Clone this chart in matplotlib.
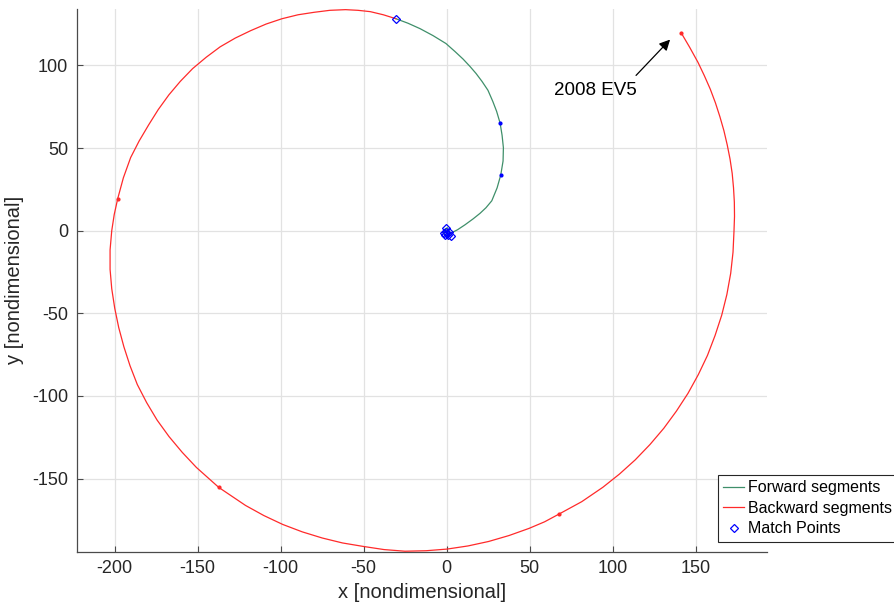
import matplotlib
matplotlib.use("Agg")
import matplotlib.pyplot as plt

plt.rcParams["font.family"] = ["Liberation Sans", "DejaVu Sans"]
plt.rcParams["axes.unicode_minus"] = False

# Backward-propagated arc, from 2008 EV5 round to the upper match point
back_x = [141.2, 146.4, 151.4, 155.2, 158.8, 161.9, 164.6, 167.0, 169.0, 170.7,
          172.0, 172.8, 173.3, 173.4, 173.1, 172.5, 171.1, 168.8, 165.7, 161.7,
          157.1, 151.6, 145.4, 138.4, 130.8, 122.5, 113.6, 104.1, 94.1, 81.4,
          67.9, 59.0, 49.6, 37.6, 25.3, 12.9, 0.3, -12.3, -25.1, -37.7,
          -50.2, -62.7, -74.9, -86.9, -98.7, -110.1, -121.1, -137.2, -150.7,
          -159.2, -167.2, -174.4, -180.7, -186.3, -190.7, -194.4, -197.5,
          -199.9, -201.7, -202.7, -202.7, -201.7, -200.2, -198.1, -194.7,
          -190.3, -185.2, -179.5, -173.7, -167.3, -160.4, -153.0, -144.8,
          -136.4, -127.3, -118.0, -108.7, -99.2, -89.5, -79.8, -70.3, -60.9,
          -53.4, -46.0, -38.1, -30.5]
back_y = [119.9, 111.0, 101.9, 93.9, 85.7, 77.4, 69.0, 60.6, 52.0, 43.4,
          34.7, 26.0, 17.3, 8.7, 0.0, -13.0, -25.8, -38.6, -51.1, -63.4,
          -75.5, -87.1, -98.4, -109.2, -119.6, -129.4, -138.7, -147.3, -155.3,
          -164.0, -171.4, -176.2, -180.2, -184.5, -188.1, -190.8, -192.7,
          -193.7, -194.0, -193.0, -191.1, -189.0, -186.0, -182.3, -177.8,
          -172.4, -166.3, -155.4, -143.3, -134.2, -124.6, -114.6, -104.0,
          -93.1, -81.7, -70.2, -58.6, -46.9, -35.1, -23.4, -11.6, 0.0, 9.8,
          19.4, 32.0, 44.3, 54.3, 64.0, 73.3, 82.2, 90.4, 98.1, 105.0, 111.3,
          116.6, 121.1, 125.1, 128.3, 130.7, 132.2, 133.4, 133.8, 133.4,
          132.6, 130.7, 128.3]

# Segment boundaries on the backward arc
back_nodes_x = [141.2, 67.9, -137.2, -198.1]
back_nodes_y = [119.9, -171.4, -155.4, 19.4]

# Forward-propagated arc, from the upper match point down to the origin region
fwd_x = [-30.5, -23.3, -16.0, -8.2, -0.4, 5.1, 9.9, 14.1, 17.7, 21.3, 24.9,
         27.8, 30.1, 32.2, 33.4, 34.2, 34.0, 32.6, 30.4, 27.2, 23.7, 20.1,
         16.0, 11.1, 6.6, 2.0]
fwd_y = [128.3, 125.6, 122.3, 118.1, 113.3, 108.4, 103.9, 99.4, 95.2, 90.4,
         85.0, 78.3, 72.3, 65.2, 57.8, 50.2, 42.2, 33.7, 25.9, 18.1, 13.9,
         10.5, 7.2, 3.6, 0.6, -1.8]

# Small forward loops around the origin
loop_x = [2.0, 1.0, -1.0, -2.0, -1.0, 0.5, 1.5, 2.0, 0.5, -1.5, -0.5, 1.0]
loop_y = [-1.8, -3.0, -2.5, -1.0, 1.0, 1.8, 0.0, -1.8, -3.2, -2.0, 0.5, -0.8]

# Segment boundaries on the forward arc
fwd_nodes_x = [32.2, 32.6]
fwd_nodes_y = [65.2, 33.7]

# Match points
match_x = [-30.5, -0.5, -1.8, 0.8, 2.4, -0.2, 1.6, -1.2]
match_y = [128.3, 1.6, -1.4, -2.6, -2.9, -0.6, -1.0, -2.8]

xticks = [-200, -150, -100, -50, 0, 50, 100, 150]
yticks = [-150, -100, -50, 0, 50, 100]

target_label = "2008 EV5"
target_xy = (134.6, 115.7)
arrow_tail = (114.1, 94.0)
label_xy = (89.4, 84.9)

green = "#3f8f6a"
red = "#ff2a2a"
blue = "#0000ff"
dark = "#262626"

fig = plt.figure(figsize=(8.94, 6.12), dpi=100)
ax = fig.add_axes([0.0858, 0.0985, 0.7722, 0.8868])

ax.plot(fwd_x, fwd_y, color=green, lw=0.9, label="Forward segments", zorder=3)
ax.plot(loop_x, loop_y, color=green, lw=0.9, zorder=3)
ax.plot(back_x, back_y, color=red, lw=0.9, label="Backward segments", zorder=3)
ax.plot(back_nodes_x, back_nodes_y, ls="none", marker="o", ms=2.0,
        color=red, mec=red, zorder=4)
ax.plot(fwd_nodes_x, fwd_nodes_y, ls="none", marker="o", ms=2.0,
        color=blue, mec=blue, zorder=4)
ax.plot(match_x, match_y, ls="none", marker="D", ms=4.5, mfc="none",
        mec=blue, mew=0.9, label="Match Points", zorder=5)

ax.annotate("", xy=target_xy, xytext=arrow_tail,
            arrowprops=dict(arrowstyle="-|>", color="black", lw=0.9,
                            mutation_scale=16, shrinkA=0, shrinkB=0))
ax.text(label_xy[0], label_xy[1], target_label, ha="center", va="center",
        fontsize=13.5, color="black")

ax.set_xlim(-222.8, 193.0)
ax.set_ylim(-194.3, 134.2)
ax.set_xticks(xticks)
ax.set_yticks(yticks)
ax.grid(True, color="#e2e2e2", lw=0.9)
ax.set_axisbelow(True)

for side in ("top", "right"):
    ax.spines[side].set_visible(False)
for side in ("left", "bottom"):
    ax.spines[side].set_color("#4a4a4a")
    ax.spines[side].set_linewidth(0.9)

ax.tick_params(direction="in", length=4.5, width=0.8, color="#4a4a4a",
               labelsize=13, labelcolor=dark, pad=6)

ax.set_xlabel("x [nondimensional]", fontsize=14.5, color=dark, labelpad=4)
ax.set_ylabel("y [nondimensional]", fontsize=14.5, color=dark, labelpad=6)

leg = ax.legend(loc="upper left", bbox_to_anchor=(0.803, 0.2245),
                bbox_transform=fig.transFigure, fontsize=11.5, frameon=True,
                fancybox=False, framealpha=1, edgecolor=dark,
                handlelength=1.3, handletextpad=0.25, labelspacing=0.35,
                borderpad=0.35, borderaxespad=0)
leg.get_frame().set_linewidth(0.8)

fig.savefig("out.png", dpi=100)
